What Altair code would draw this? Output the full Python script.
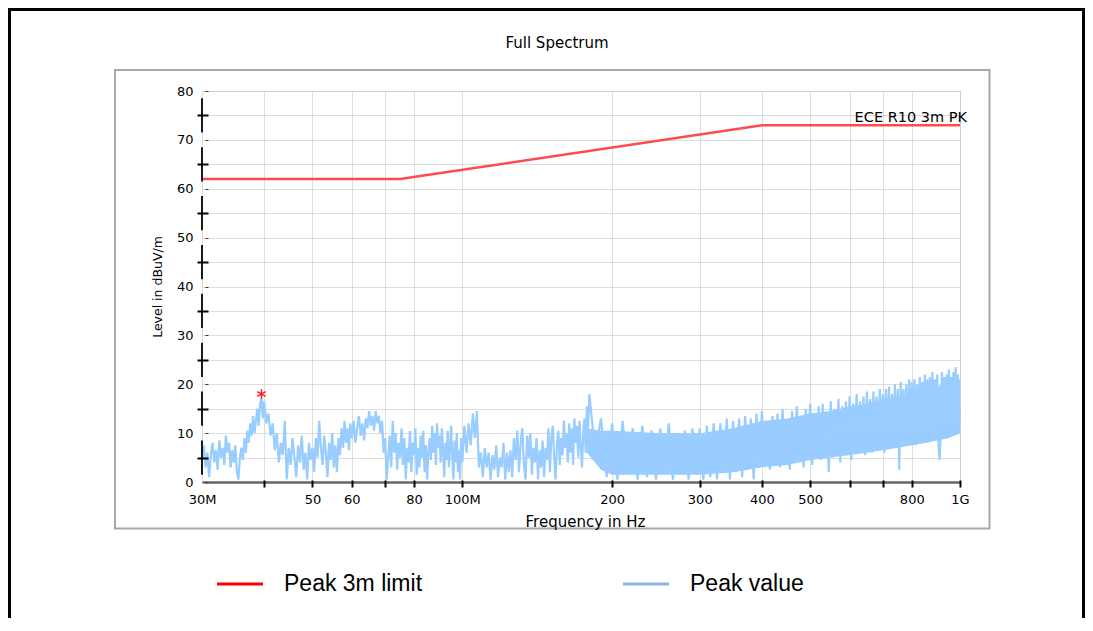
import altair as alt
import pandas as pd

FONT = "DejaVu Sans"
LEG_FONT = "Liberation Sans"
BLUE = "#99CCFF"
RED = "#FF4B4B"

# ---------------- data ----------------
segA_freq = [30.0, 30.25, 30.5, 30.75, 31.0, 31.25, 31.5, 31.75, 32.0, 32.25,
             32.5, 32.75, 33.0, 33.25, 33.5, 33.75, 34.0, 34.25, 34.5, 34.75,
             35.0, 35.25, 35.5, 35.75, 36.0, 36.25, 36.5, 36.75, 37.0, 37.25,
             37.5, 37.75, 38.0, 38.25, 38.5, 38.75, 39.0, 39.25, 39.5, 39.75]
segA_level = [4.5, 7.5, 3, 6, 1, 5.5, 8, 4, 6.5, 2.5,
              8.5, 5, 7, 3.5, 9.5, 6, 8, 3, 6.5, 4,
              7.5, 2, 0.5, 5, 7, 4.5, 9, 6, 10.5, 8,
              12, 9.5, 13.5, 10, 12.5, 15, 11.5, 16, 17.2, 13]

segB_freq = [40.0, 40.4, 40.8, 41.2, 41.6, 42.0, 42.4, 42.8, 43.2, 43.6,
             44.0, 44.4, 44.8, 45.2, 45.6, 46.0, 46.4, 46.8, 47.2, 47.6,
             48.0, 48.4, 48.8, 49.2, 49.6, 50.0, 50.4, 50.8, 51.2, 51.6,
             52.0, 52.4, 52.8, 53.2, 53.6, 54.0, 54.4, 54.8, 55.2, 55.6,
             56.0, 56.4, 56.8, 57.2, 57.6, 58.0, 58.4, 58.8, 59.2, 59.6]
segB_level = [16.5, 12, 14, 9.5, 12, 6.5, 10, 4, 8, 5.5,
              12.5, 0.5, 7, 3.5, 9, 5, 1, 7.5, 4, 9.5,
              2.5, 6, 0.5, 8, 4.5, 7, 2, 9, 5, 12.5,
              7, 3.5, 9.5, 6, 1, 8, 4.5, 10, 3, 7.5,
              2, 9, 5.5, 11, 7, 12.5, 8, 11, 6.5, 12]

segC_freq = [60.0, 60.5, 61.0, 61.5, 62.0, 62.5, 63.0, 63.5, 64.0, 64.5,
             65.0, 65.5, 66.0, 66.5, 67.0, 67.5, 68.0, 68.5, 69.0, 69.5,
             70.0, 70.5, 71.0, 71.5, 72.0, 72.5, 73.0, 73.5, 74.0, 74.5,
             75.0, 75.5, 76.0, 76.5, 77.0, 77.5, 78.0, 78.5, 79.0, 79.5,
             80.0, 80.5, 81.0, 81.5, 82.0, 82.5, 83.0, 83.5, 84.0, 84.5,
             85.0, 85.5, 86.0, 86.5, 87.0, 87.5, 88.0, 88.5, 89.0, 89.5,
             90.0, 90.5, 91.0, 91.5, 92.0, 92.5, 93.0, 93.5, 94.0, 94.5,
             95.0, 95.5, 96.0, 96.5, 97.0, 97.5, 98.0, 98.5, 99.0, 99.5]
segC_level = [9, 12.5, 8, 11, 13.5, 9.5, 12, 8.5, 13, 11,
              14.5, 11.5, 13.5, 10.5, 14.5, 12, 13.5, 10, 12.5, 6,
              9, 0.5, 5, 9.5, 3, 12.5, 6, 10, 2.5, 8,
              5, 11, 3.5, 9, 0.5, 7, 4, 10.5, 2, 8,
              5.5, 11, 1.5, 7, 3, 9.5, 5, 10.5, 2, 7.5,
              0.5, 6, 9, 4.5, 11.5, 6, 10, 3.5, 12, 7,
              9.5, 4, 11, 6.5, 1, 8, 4.5, 10.5, 3, 7,
              11.5, 5, 0.5, 8.5, 4, 10, 2, 6.5, 0.5, 9]

segD_freq = [100, 101, 102, 103, 104, 105, 106, 107, 108, 109,
             110, 111, 112, 113, 114, 115, 116, 117, 118, 119,
             120, 121, 122, 123, 124, 125, 126, 127, 128, 129,
             130, 131, 132, 133, 134, 135, 136, 137, 138, 139,
             140, 141, 142, 143, 144, 145, 146, 147, 148, 149,
             150, 151, 152, 153, 154, 155, 156, 157, 158, 159,
             160, 161, 162, 163, 164, 165, 166, 167, 168, 169,
             170, 171, 172, 173, 174, 175, 176, 177, 178, 179]
segD_level = [4, 11.5, 6, 12, 7.5, 14, 9, 14.5, 3, 6,
              1, 7, 3, 6, 0.5, 5.5, 2.5, 7.5, 1, 5,
              3, 8, 0.5, 6, 2, 6.5, 1, 9, 4.5, 10.5,
              2, 8, 11, 3.5, 0.5, 9.5, 5, 10, 1.5, 7,
              4, 9, 0.5, 6.5, 3, 8.5, 1, 7, 4.5, 11,
              2, 9, 11.5, 5, 0.5, 8, 10.5, 3.5, 9, 5.5,
              12.5, 7, 10, 4, 12, 6, 11, 3.5, 13, 8,
              11.5, 5, 12.5, 7.5, 3, 10, 13, 6, 15.5, 11]

segE_freq = [180, 185, 190, 195, 200, 205, 210, 215, 220, 225, 230, 235, 240, 245, 250, 255,
             260, 265, 270, 275, 280, 285, 290, 295, 300, 305, 310, 315, 320, 325, 330, 335,
             340, 345, 350, 355, 360, 365, 370, 375, 380, 385, 390, 395]
segE_level = [18, 6, 13, 1, 12, 0.5, 12.5, 2, 11, 0.5, 11.5, 1, 10.5, 0.5, 11, 2,
              12, 0.5, 10, 1.5, 10.5, 0.5, 11, 2, 11, 0.5, 11.5, 1, 12, 0.5, 12, 2,
              13, 0.5, 12.5, 2, 13, 1, 13.5, 2.5, 13, 0.5, 14, 3]

segF_freq = [400, 405, 410, 415, 420, 425, 430, 435, 440, 445,
             450, 455, 460, 465, 470, 475, 480, 485, 490, 495,
             500, 505, 510, 515, 520, 525, 530, 535, 540, 545,
             550, 555, 560, 565, 570, 575, 580, 585, 590, 595,
             600, 605, 610, 615, 620, 625, 630, 635, 640, 645,
             650, 655, 660, 665, 670, 675, 680, 685, 690, 695,
             700, 705, 710, 715, 720, 725, 730, 735, 740, 745,
             750, 755, 760, 765, 770, 775, 780, 785, 790, 795,
             800, 805, 810, 815, 820, 825, 830, 835, 840, 845,
             850, 855, 860, 865, 870, 875, 880, 885, 890, 895,
             900, 905, 910, 915, 920, 925, 930, 935, 940, 945,
             950, 955, 960, 965, 970, 975, 980, 985, 990, 995, 1000]
segF_level = [14.5, 4, 12, 2.5, 13.5, 6, 14, 3, 15, 5.5,
              12.5, 2.5, 14.5, 4.5, 15.5, 6, 13, 3, 15, 5,
              16, 3.5, 14, 6, 15.5, 4.5, 16, 7, 14.5, 2,
              16.5, 5, 15, 6.5, 17, 4, 15.5, 7, 16.5, 5.5,
              17.5, 4.5, 16, 7.5, 18, 6, 16.5, 8, 17.5, 5.5,
              18.5, 7, 17, 6, 18.5, 8, 17.5, 6.5, 19, 8.5,
              18, 6, 19, 8, 19.5, 7, 18, 9, 20, 7,
              19, 2.5, 20.5, 8.5, 19, 7.5, 20, 9, 21, 8,
              20.5, 9.5, 21, 7.5, 20, 9, 21.5, 8.5, 20.5, 10,
              22, 8, 21, 9.5, 21.5, 8.5, 22.5, 10, 21, 9,
              22, 8, 4.5, 10.5, 22.5, 9.5, 21.5, 11, 22, 9.5,
              23, 10.5, 21.5, 11, 22.5, 10, 23.5, 11.5, 22, 12, 15]

# dense core of the trace above 180 MHz (where the sweep fills solidly)
band_freq = [178, 190, 200, 250, 300, 350, 400, 450, 500, 550, 600, 650, 700, 750, 800, 850, 900, 950, 1000]
band_lo = [6, 2.5, 1.5, 1.5, 1.5, 2, 3, 3.5, 4.5, 5, 5.5, 6, 6.5, 7, 7.5, 8, 8.5, 9, 10]
band_hi = [11, 10.5, 10.5, 10, 10, 11, 12.5, 13, 14, 14.5, 15.5, 16, 17, 17.5, 18.5, 19, 19.5, 20.5, 21]

limit_name = "ECE R10 3m PK"
limit_freq = [30, 75, 400, 1000]
limit_level = [62, 62, 73, 73]

marker_freq = [39.5]
marker_level = [18.0]

chart_title = "Full Spectrum"
y_label_vals = [0, 10, 20, 30, 40, 50, 60, 70, 80]
y_cross_vals = [5, 15, 25, 35, 45, 55, 65, 75]
y_grid_vals = [5, 10, 15, 20, 25, 30, 35, 40, 45, 50, 55, 60, 65, 70, 75, 80]
x_label_vals = [30, 50, 60, 80, 100, 200, 300, 400, 500, 800, 1000]
x_label_text = ["30M", "50", "60", "80", "100M", "200", "300", "400", "500", "800", "1G"]
x_tick_vals = [40, 50, 60, 70, 80, 100, 200, 300, 400, 500, 600, 700, 800, 1000]

legend_labels = ["Peak 3m limit", "Peak value"]
legend_colors = ["#FF0000", "#8DB4E2"]

# ---------------- tables ----------------
peak_freq = segA_freq + segB_freq + segC_freq + segD_freq + segE_freq + segF_freq
peak_level = segA_level + segB_level + segC_level + segD_level + segE_level + segF_level
peak_df = pd.DataFrame({"f": peak_freq, "v": peak_level})
band_df = pd.DataFrame({"f": band_freq, "lo": band_lo, "hi": band_hi})
limit_df = pd.DataFrame({"f": limit_freq, "v": limit_level})
marker_df = pd.DataFrame({"f": marker_freq, "v": marker_level})
label_df = pd.DataFrame({"f": [limit_freq[-1]], "v": [limit_level[-1]], "t": [limit_name]})
seg_df = pd.DataFrame({
    "f": [x_label_vals[0]] * (len(y_label_vals) - 1),
    "lo": [v + 1.5 for v in y_label_vals[:-1]],
    "hi": [v + 8.5 for v in y_label_vals[:-1]],
})
one = pd.DataFrame({"k": [0]})

x_label_expr = ""
for v, t in zip(x_label_vals, x_label_text):
    x_label_expr += f"datum.value == {v} ? '{t}' : "
x_label_expr += "''"

XS = alt.Scale(type="log", domain=[30, 1000], nice=False)
YS = alt.Scale(domain=[0, 80], nice=False, zero=False)

# ---------------- frames and title ----------------
outer = alt.Chart(one).mark_rect(fillOpacity=0, stroke="black", strokeWidth=3).encode(
    x=alt.value(-192.5), x2=alt.value(881.5), y=alt.value(-81.5), y2=alt.value(700))
inner = alt.Chart(one).mark_rect(fillOpacity=0, stroke="#A8A8A8", strokeWidth=2).encode(
    x=alt.value(-87), x2=alt.value(787.5), y=alt.value(-21), y2=alt.value(437.5))
title = alt.Chart(one).mark_text(
    text=chart_title, font=FONT, fontSize=15, color="black", align="center",
    baseline="middle").encode(x=alt.value(355), y=alt.value(-48))

# ---------------- data layers ----------------
band = alt.Chart(band_df).mark_area(color=BLUE, opacity=1).encode(
    x=alt.X("f:Q", scale=XS, axis=alt.Axis(
        orient="bottom", values=x_label_vals, labelExpr=x_label_expr, labelFont=FONT,
        labelFontSize=13, labelColor="black", labelPadding=11, labelFlush=False,
        labelOverlap=False, ticks=False, tickSize=0, grid=False, domain=True,
        domainColor="#666666", domainWidth=2.5, title="Frequency in Hz", titleFont=FONT,
        titleFontSize=15, titleFontWeight="normal", titleColor="black", titleX=383,
        titleY=39, titleBaseline="middle", titleAlign="center", zindex=2)),
    y=alt.Y("lo:Q", scale=YS, axis=alt.Axis(
        orient="left", values=y_label_vals, labelFont=FONT, labelFontSize=13,
        labelColor="black", labelPadding=9, labelOverlap=False, ticks=False, tickSize=0,
        grid=False, domain=False, title="Level in dBuV/m", titleFont=FONT,
        titleFontSize=12.5, titleFontWeight="normal", titleColor="black", titleX=-45,
        titleY=195.5, titleAngle=270, titleBaseline="middle", titleAlign="center", zindex=2)),
    y2="hi:Q",
)

peak = alt.Chart(peak_df).mark_line(color=BLUE, strokeWidth=2.2).encode(
    x=alt.X("f:Q", scale=XS, axis=alt.Axis(
        orient="bottom", values=x_tick_vals, grid=True, gridColor="#BDBDBD",
        gridDash=[1, 1], gridWidth=1, labels=False, ticks=False, domain=False,
        title=None, zindex=0)),
    y=alt.Y("v:Q", scale=YS, axis=alt.Axis(
        orient="left", values=y_grid_vals, grid=True, gridColor="#BDBDBD",
        gridDash=[1, 1], gridWidth=1, labels=False, ticks=False, domain=False,
        title=None, zindex=0)),
)

limit = alt.Chart(limit_df).mark_line(color=RED, strokeWidth=2.5).encode(
    x=alt.X("f:Q", scale=XS, axis=alt.Axis(
        orient="bottom", values=x_tick_vals, grid=False, labels=False, ticks=True,
        tickSize=7, tickWidth=2, tickColor="black", domain=False, offset=-2,
        title=None, zindex=3)),
    y=alt.Y("v:Q", scale=YS, axis=alt.Axis(
        orient="left", values=y_cross_vals, grid=False, labels=False, ticks=True,
        tickSize=11, tickWidth=2, tickColor="black", domain=False, offset=-6,
        title=None, zindex=3)),
)

ASTERISK = "M0,-1L0,1M-0.87,-0.5L0.87,0.5M-0.87,0.5L0.87,-0.5"
star = alt.Chart(marker_df).mark_point(shape=ASTERISK, size=90, color="#FF2020",
                                       strokeWidth=1.5, filled=False, opacity=1).encode(
    x=alt.X("f:Q", scale=XS, axis=None),
    y=alt.Y("v:Q", scale=YS, axis=alt.Axis(
        orient="left", values=y_label_vals, grid=False, labels=False, ticks=True,
        tickSize=3, tickWidth=1, tickColor="#333333", domain=False, offset=-6,
        title=None, zindex=3)),
)

lim_label = alt.Chart(label_df).mark_text(
    align="right", baseline="alphabetic", dx=7, dy=-3, font=FONT, fontSize=14.5,
    color="black").encode(
    x=alt.X("f:Q", scale=XS, axis=None),
    y=alt.Y("v:Q", scale=YS, axis=None),
    text="t:N",
)

segs = alt.Chart(seg_df).mark_rule(color="#1A1A1A", strokeWidth=2).encode(
    x=alt.X("f:Q", scale=XS, axis=None),
    y=alt.Y("lo:Q", scale=YS, axis=None),
    y2="hi:Q",
)

# ---------------- legend ----------------
leg_layers = []
leg_x = [15, 421]
for i, (lab, col) in enumerate(zip(legend_labels, legend_colors)):
    leg_layers.append(alt.Chart(one).mark_rule(color=col, strokeWidth=3).encode(
        x=alt.value(leg_x[i]), x2=alt.value(leg_x[i] + 46), y=alt.value(493)))
    leg_layers.append(alt.Chart(one).mark_text(
        text=lab, align="left", baseline="middle", font=LEG_FONT, fontSize=23,
        color="black").encode(x=alt.value(leg_x[i] + 67), y=alt.value(493)))

chart = alt.layer(
    outer, inner, title, band, peak, limit, star, lim_label, segs, *leg_layers
).resolve_axis(x="independent", y="independent").properties(
    width=758,
    height=391,
    padding={"left": 194, "top": 83, "right": 125, "bottom": 136},
    autosize=alt.AutoSizeParams(type="none"),
).configure_view(strokeWidth=0).configure(background="white")

chart.save("out.html", embed_options={"renderer": "svg", "actions": False})
